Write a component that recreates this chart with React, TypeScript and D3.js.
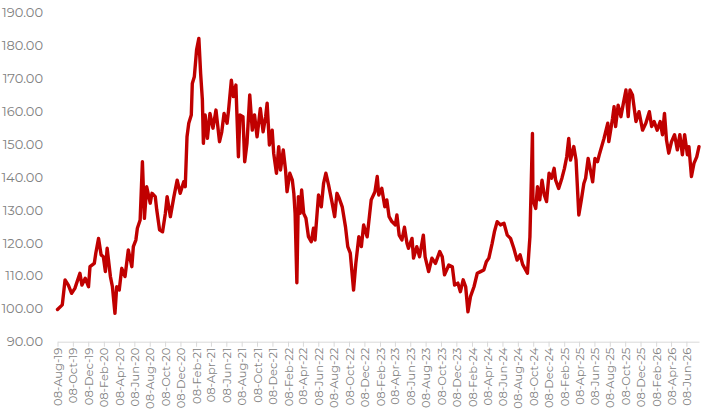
import { useEffect, useRef } from "react";
import * as d3 from "d3";

const dates: string[] = [
  "2019-08-08", "2019-08-27", "2019-09-07", "2019-09-20", "2019-10-03", "2019-10-16", "2019-11-05", "2019-11-13",
  "2019-11-26", "2019-12-09", "2019-12-15", "2020-01-01", "2020-01-07", "2020-01-18", "2020-01-28", "2020-02-06",
  "2020-02-14", "2020-02-21", "2020-03-05", "2020-03-13", "2020-03-23", "2020-03-30", "2020-04-09", "2020-04-19",
  "2020-05-02", "2020-05-15", "2020-05-29", "2020-06-04", "2020-06-14", "2020-06-20", "2020-07-01", "2020-07-10",
  "2020-07-18", "2020-07-27", "2020-08-10", "2020-08-17", "2020-08-30", "2020-09-05", "2020-09-16", "2020-09-28",
  "2020-10-09", "2020-10-16", "2020-10-29", "2020-11-12", "2020-11-25", "2020-12-07", "2020-12-21", "2020-12-27",
  "2021-01-03", "2021-01-10", "2021-01-20", "2021-01-24", "2021-02-01", "2021-02-10", "2021-02-19", "2021-02-26",
  "2021-03-05", "2021-03-09", "2021-03-16", "2021-03-25", "2021-04-04", "2021-04-16", "2021-04-28", "2021-05-12",
  "2021-05-21", "2021-05-30", "2021-06-11", "2021-06-17", "2021-06-28", "2021-07-06", "2021-07-16", "2021-07-26",
  "2021-08-01", "2021-08-13", "2021-08-20", "2021-08-29", "2021-09-09", "2021-09-19", "2021-09-28", "2021-10-08",
  "2021-10-21", "2021-11-01", "2021-11-11", "2021-11-17", "2021-11-26", "2021-12-07", "2021-12-13", "2021-12-24",
  "2022-01-02", "2022-01-09", "2022-01-20", "2022-01-29", "2022-02-04", "2022-02-15", "2022-02-25", "2022-03-03",
  "2022-03-08", "2022-03-15", "2022-03-21", "2022-03-28", "2022-04-03", "2022-04-11", "2022-04-20", "2022-04-30",
  "2022-05-11", "2022-05-20", "2022-05-26", "2022-06-09", "2022-06-20", "2022-06-29", "2022-07-08", "2022-07-19",
  "2022-08-01", "2022-08-12", "2022-08-21", "2022-08-30", "2022-09-11", "2022-09-24", "2022-10-03", "2022-10-13",
  "2022-10-26", "2022-11-04", "2022-11-16", "2022-11-26", "2022-12-05", "2022-12-19", "2023-01-04", "2023-01-19",
  "2023-01-28", "2023-02-03", "2023-02-15", "2023-02-27", "2023-03-07", "2023-03-16", "2023-03-27", "2023-04-10",
  "2023-04-16", "2023-04-25", "2023-05-06", "2023-05-16", "2023-05-26", "2023-06-01", "2023-06-15", "2023-06-21",
  "2023-07-04", "2023-07-15", "2023-07-30", "2023-08-06", "2023-08-20", "2023-09-02", "2023-09-16", "2023-10-03",
  "2023-10-13", "2023-10-22", "2023-11-08", "2023-11-22", "2023-12-01", "2023-12-14", "2023-12-24", "2024-01-04",
  "2024-01-14", "2024-01-23", "2024-02-02", "2024-02-16", "2024-02-29", "2024-03-13", "2024-03-26", "2024-04-05",
  "2024-04-15", "2024-04-28", "2024-05-07", "2024-05-18", "2024-05-31", "2024-06-14", "2024-06-27", "2024-07-10",
  "2024-07-23", "2024-08-05", "2024-08-17", "2024-08-27", "2024-09-15", "2024-09-25", "2024-10-05", "2024-10-07",
  "2024-10-18", "2024-10-25", "2024-11-03", "2024-11-12", "2024-11-21", "2024-11-30", "2024-12-10", "2024-12-20",
  "2024-12-30", "2025-01-05", "2025-01-17", "2025-01-30", "2025-02-09", "2025-02-18", "2025-02-26", "2025-03-05",
  "2025-03-18", "2025-03-27", "2025-04-07", "2025-04-17", "2025-04-27", "2025-05-04", "2025-05-14", "2025-05-23",
  "2025-06-01", "2025-06-10", "2025-06-20", "2025-06-29", "2025-07-16", "2025-07-31", "2025-08-04", "2025-08-19",
  "2025-08-25", "2025-08-31", "2025-09-10", "2025-09-21", "2025-10-01", "2025-10-11", "2025-10-20", "2025-10-27",
  "2025-11-06", "2025-11-20", "2025-12-02", "2025-12-16", "2025-12-29", "2026-01-12", "2026-01-21", "2026-01-31",
  "2026-02-12", "2026-02-24", "2026-03-05", "2026-03-13", "2026-03-21", "2026-03-30", "2026-04-10", "2026-04-22",
  "2026-05-03", "2026-05-13", "2026-05-23", "2026-06-01", "2026-06-12", "2026-06-18", "2026-06-28", "2026-07-08",
  "2026-07-19", "2026-07-28",
];

const values: number[] = [
  99.8, 101.2, 108.8, 107.2, 104.7, 106.2, 110.8, 107.2,
  109.3, 106.7, 112.8, 113.8, 116.9, 121.4, 116.4, 115.8,
  111.3, 118.4, 109.8, 106.7, 98.6, 106.7, 105.7, 112.3,
  109.8, 117.9, 112.8, 118.9, 120.9, 124.5, 127.0, 144.7,
  127.5, 137.1, 132.1, 135.1, 134.1, 130.0, 124.0, 123.4,
  129.0, 134.1, 128.0, 134.1, 139.1, 135.1, 138.6, 137.1,
  152.3, 156.4, 158.9, 168.5, 170.5, 178.7, 182.2, 171.6,
  163.5, 150.3, 158.9, 151.8, 159.4, 154.9, 160.4, 150.8,
  153.8, 159.4, 156.4, 160.4, 169.5, 164.5, 168.0, 146.2,
  158.9, 158.4, 144.7, 150.3, 165.0, 154.3, 158.9, 152.3,
  160.9, 153.8, 158.4, 162.5, 149.8, 154.3, 147.3, 141.2,
  149.3, 142.2, 148.3, 142.2, 135.6, 141.2, 139.1, 135.1,
  129.0, 107.9, 134.1, 129.0, 136.1, 129.0, 127.5, 121.9,
  120.4, 124.5, 120.9, 134.6, 131.0, 138.1, 141.2, 137.6,
  132.6, 128.0, 135.1, 133.6, 131.0, 124.9, 118.9, 116.9,
  105.7, 113.8, 121.9, 118.9, 125.5, 121.9, 133.1, 135.6,
  140.2, 134.6, 136.6, 131.0, 133.1, 128.0, 126.5, 125.5,
  128.5, 122.4, 120.9, 124.8, 119.9, 118.4, 121.4, 115.4,
  118.9, 115.8, 122.4, 115.8, 111.3, 115.4, 113.8, 117.4,
  115.8, 110.3, 113.3, 112.8, 107.2, 107.8, 105.2, 108.8,
  106.7, 99.1, 103.7, 106.7, 110.8, 111.3, 111.8, 114.3,
  115.4, 119.9, 123.4, 126.5, 125.5, 126.0, 122.4, 121.4,
  118.4, 114.8, 116.4, 113.5, 110.8, 121.9, 153.3, 133.1,
  130.5, 137.1, 133.1, 139.1, 134.6, 132.6, 141.2, 139.7,
  142.7, 139.1, 136.6, 139.7, 142.7, 146.2, 151.8, 145.2,
  149.3, 145.2, 128.5, 133.1, 138.1, 139.7, 145.7, 142.2,
  138.6, 145.7, 144.7, 147.3, 151.8, 156.4, 150.8, 157.9,
  161.4, 155.4, 161.9, 158.4, 162.5, 166.5, 158.4, 166.5,
  165.0, 156.9, 159.9, 154.3, 156.4, 159.9, 155.4, 156.9,
  154.3, 156.9, 152.9, 159.4, 151.3, 147.3, 150.8, 152.9,
  148.3, 152.9, 146.8, 152.9, 146.8, 149.3, 140.2, 144.2,
  146.2, 149.3,
];

const yTicks: number[] = [90, 100, 110, 120, 130, 140, 150, 160, 170, 180, 190];
const xStart = "2019-08-08";
const xEnd = "2026-07-28";
const tickCount = 42; // one every two months, 08-Aug-19 .. 08-Jun-26

const WIDTH = 708;
const HEIGHT = 411;
const FONT = "Montserrat, Lato, 'Open Sans', sans-serif";

export default function App() {
  const svgRef = useRef<SVGSVGElement>(null);

  useEffect(() => {
    if (!svgRef.current) return;
    const svg = d3.select(svgRef.current);
    svg.selectAll("*").remove();

    const parse = d3.timeParse("%Y-%m-%d");
    const data = dates.map((d, i) => ({ date: parse(d)!, value: values[i] }));

    const margin = { top: 12.7, right: 9, bottom: 69.3, left: 57.5 };
    const x = d3
      .scaleTime()
      .domain([parse(xStart)!, parse(xEnd)!])
      .range([margin.left, WIDTH - margin.right]);
    const y = d3
      .scaleLinear()
      .domain([90, 190])
      .range([HEIGHT - margin.bottom, margin.top]);

    // y labels, no axis line
    svg
      .append("g")
      .selectAll("text")
      .data(yTicks)
      .join("text")
      .attr("x", 43)
      .attr("y", (d) => y(d))
      .attr("dy", "0.35em")
      .attr("text-anchor", "end")
      .attr("fill", "#7f7f7f")
      .attr("font-size", "13px")
      .attr("font-family", FONT)
      .text((d) => d.toFixed(2));

    // x axis
    const start = parse(xStart)!;
    const ticks = d3.range(tickCount).map((i) => d3.timeMonth.offset(start, i * 2));
    const fmt = d3.timeFormat("%d-%b-%y");
    const xAxis = svg
      .append("g")
      .attr("transform", `translate(0,${y(90)})`)
      .call(
        d3
          .axisBottom(x)
          .tickValues(ticks)
          .tickSize(5)
          .tickSizeOuter(0)
          .tickFormat((d) => fmt(d as Date))
      );
    xAxis.select(".domain").attr("stroke", "#d9d9d9");
    xAxis.selectAll(".tick line").attr("stroke", "#d9d9d9");
    xAxis
      .selectAll(".tick text")
      .attr("fill", "#7f7f7f")
      .attr("font-size", "11.5px")
      .attr("font-family", FONT)
      .attr("transform", "rotate(-90)")
      .attr("text-anchor", "end")
      .attr("x", -6)
      .attr("y", 0)
      .attr("dy", "0.35em");

    const line = d3
      .line<{ date: Date; value: number }>()
      .x((d) => x(d.date))
      .y((d) => y(d.value));

    svg
      .append("path")
      .datum(data)
      .attr("fill", "none")
      .attr("stroke", "#c00000")
      .attr("stroke-width", 3.4)
      .attr("stroke-linejoin", "round")
      .attr("stroke-linecap", "round")
      .attr("d", line);
  }, []);

  return (
    <svg
      ref={svgRef}
      width={WIDTH}
      height={HEIGHT}
      style={{ position: "absolute", left: 0, top: 0, background: "#fff" }}
    />
  );
}
